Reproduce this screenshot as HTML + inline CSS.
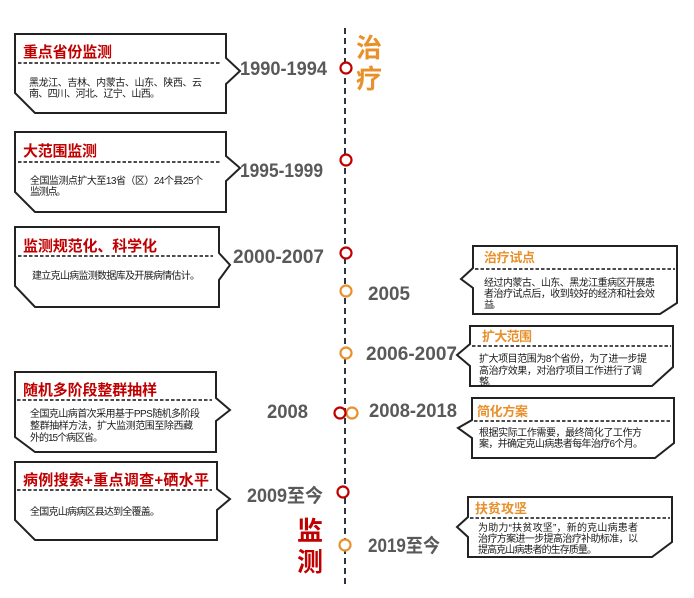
<!DOCTYPE html>
<html><head><meta charset="utf-8"><style>
html,body{margin:0;padding:0;background:#fff;}
svg{display:block;}
text{font-family:"Liberation Sans","Noto Sans CJK SC",sans-serif;}
.t{font-weight:bold;fill:#c00000;font-size:15px;}
.to{font-weight:bold;fill:#e8912c;font-size:13px;}
.b{fill:#1a1a1a;font-size:10px;}
.y{font-weight:bold;fill:#595959;font-size:19px;}
.box{fill:#fff;stroke:#222;stroke-width:2;stroke-linejoin:miter;}
.dl{stroke:#111;stroke-width:1.4;stroke-dasharray:3.5 2;}
</style></head><body>
<svg width="694" height="598" viewBox="0 0 694 598" xmlns="http://www.w3.org/2000/svg">
<!-- timeline -->
<line x1="345" y1="28" x2="345" y2="584" stroke="#2a3442" stroke-width="2" stroke-dasharray="6 4"/>

<!-- Left boxes -->
<path class="box" d="M15,34 L226,34 L226,58 L240,71 L226,84 L226,113 L35,113 L15,93 Z"/>
<line class="dl" x1="18" y1="63" x2="221" y2="63"/>
<text class="t" x="23" y="57" textLength="89" lengthAdjust="spacing">重点省份监测</text>
<text class="b" x="29" y="86" textLength="173" lengthAdjust="spacing">黑龙江、吉林、内蒙古、山东、陕西、云</text>
<text class="b" x="29" y="97" textLength="131" lengthAdjust="spacing">南、四川、河北、辽宁、山西。</text>

<path class="box" d="M15,132 L226,132 L226,156 L240,168 L226,181 L226,212 L35,212 L15,192 Z"/>
<line class="dl" x1="18" y1="162" x2="221" y2="162"/>
<text class="t" x="23" y="156" textLength="74" lengthAdjust="spacing">大范围监测</text>
<text class="b" x="30" y="184" textLength="173" lengthAdjust="spacing">全国监测点扩大至13省（区）24个县25个</text>
<text class="b" x="30" y="195" textLength="36" lengthAdjust="spacing">监测点。</text>

<path class="box" d="M15,227 L219,227 L219,253 L230,265 L219,280 L219,307 L35,307 L15,286 Z"/>
<line class="dl" x1="18" y1="256" x2="213" y2="256"/>
<text class="t" x="23" y="251" textLength="134" lengthAdjust="spacing">监测规范化、科学化</text>
<text class="b" x="32" y="279" textLength="168" lengthAdjust="spacing">建立克山病监测数据库及开展病情估计。</text>

<path class="box" d="M15,372 L216,372 L216,398 L230,410 L216,421 L216,452 L35,452 L15,437 Z"/>
<line class="dl" x1="17" y1="400" x2="212" y2="400"/>
<text class="t" x="23" y="395" textLength="134" lengthAdjust="spacing">随机多阶段整群抽样</text>
<text class="b" x="30" y="417" textLength="170" lengthAdjust="spacing">全国克山病首次采用基于PPS随机多阶段</text>
<text class="b" x="30" y="429" textLength="163" lengthAdjust="spacing">整群抽样方法，扩大监测范围至除西藏</text>
<text class="b" x="30" y="441" textLength="73" lengthAdjust="spacing">外的15个病区省。</text>

<path class="box" d="M15,462 L217,462 L217,489 L230,499 L217,510 L217,540 L35,540 L15,520 Z"/>
<line class="dl" x1="17" y1="490" x2="212" y2="490"/>
<text class="t" x="23" y="485" textLength="186" lengthAdjust="spacing">病例搜索+重点调查+硒水平</text>
<text class="b" x="30" y="515" textLength="130" lengthAdjust="spacing">全国克山病病区县达到全覆盖。</text>

<!-- Right boxes -->
<path class="box" d="M473,246 L677,246 L677,303 L660,314 L473,314 L473,288 L461,279 L473,268 Z"/>
<line class="dl" x1="475" y1="269" x2="675" y2="269"/>
<text class="to" x="484" y="262" textLength="51" lengthAdjust="spacing">治疗试点</text>
<text class="b" x="484" y="286" textLength="171" lengthAdjust="spacing">经过内蒙古、山东、黑龙江重病区开展患</text>
<text class="b" x="484" y="297" textLength="171" lengthAdjust="spacing">者治疗试点后，收到较好的经济和社会效</text>
<text class="b" x="484" y="308" textLength="17" lengthAdjust="spacing">益。</text>

<path class="box" d="M470,326 L673,326 L673,367 L652,386 L470,386 L470,366 L457,355 L470,344 Z"/>
<line class="dl" x1="472" y1="346" x2="671" y2="346"/>
<text class="to" x="482" y="341" textLength="50" lengthAdjust="spacing">扩大范围</text>
<text class="b" x="479" y="362" textLength="168" lengthAdjust="spacing">扩大项目范围为8个省份，为了进一步提</text>
<text class="b" x="479" y="374" textLength="163" lengthAdjust="spacing">高治疗效果，对治疗项目工作进行了调</text>
<text class="b" x="479" y="385" textLength="17" lengthAdjust="spacing">整。</text>

<path class="box" d="M472,398 L674,398 L674,443 L655,458 L472,458 L472,438 L458,428 L472,420 Z"/>
<line class="dl" x1="474" y1="421" x2="672" y2="421"/>
<text class="to" x="477" y="416" textLength="51" lengthAdjust="spacing">简化方案</text>
<text class="b" x="479" y="436" textLength="163" lengthAdjust="spacing">根据实际工作需要，最终简化了工作方</text>
<text class="b" x="479" y="447" textLength="164" lengthAdjust="spacing">案，并确定克山病患者每年治疗6个月。</text>

<path class="box" d="M468,497 L672,497 L672,542 L652,557 L468,557 L468,537 L457,527 L468,517 Z"/>
<line class="dl" x1="470" y1="518" x2="670" y2="518"/>
<text class="to" x="475" y="513" textLength="52" lengthAdjust="spacing">扶贫攻坚</text>
<text class="b" x="478" y="531" textLength="160" lengthAdjust="spacing">为助力“扶贫攻坚”，新的克山病患者</text>
<text class="b" x="478" y="542" textLength="160" lengthAdjust="spacing">治疗方案进一步提高治疗补助标准，以</text>
<text class="b" x="478" y="553" textLength="119" lengthAdjust="spacing">提高克山病患者的生存质量。</text>

<!-- Year labels -->
<text class="y" x="240" y="75" textLength="87" lengthAdjust="spacingAndGlyphs">1990-1994</text>
<text class="y" x="240" y="177" textLength="83" lengthAdjust="spacingAndGlyphs">1995-1999</text>
<text class="y" x="233" y="263" textLength="91" lengthAdjust="spacingAndGlyphs">2000-2007</text>
<text class="y" x="267" y="418" textLength="41" lengthAdjust="spacingAndGlyphs">2008</text>
<text class="y" x="247" y="502" textLength="76" lengthAdjust="spacingAndGlyphs">2009至今</text>
<text class="y" x="368" y="300" textLength="42" lengthAdjust="spacingAndGlyphs">2005</text>
<text class="y" x="366" y="360" textLength="91" lengthAdjust="spacingAndGlyphs">2006-2007</text>
<text class="y" x="369" y="417" textLength="88" lengthAdjust="spacingAndGlyphs">2008-2018</text>
<text class="y" x="368" y="552" textLength="72" lengthAdjust="spacingAndGlyphs">2019至今</text>

<!-- Big labels -->
<text x="356" y="57" font-size="26" font-weight="bold" fill="#e8912c">治</text>
<text x="356" y="88" font-size="26" font-weight="bold" fill="#e8912c">疗</text>
<text x="297" y="540" font-size="26" font-weight="bold" fill="#c00000">监</text>
<text x="297" y="571" font-size="26" font-weight="bold" fill="#c00000">测</text>

<!-- Circles -->
<g fill="#fff" stroke-width="2.2">
<circle cx="346" cy="68" r="5.5" stroke="#c00000"/>
<circle cx="346" cy="160" r="5.5" stroke="#c00000"/>
<circle cx="346" cy="253" r="5.5" stroke="#c00000"/>
<circle cx="346" cy="291" r="5.5" stroke="#e8912c"/>
<circle cx="346" cy="353" r="5.5" stroke="#e8912c"/>
<circle cx="352" cy="413" r="5.5" stroke="#e8912c"/>
<circle cx="340" cy="413" r="5.5" stroke="#c00000"/>
<circle cx="343" cy="492" r="5.5" stroke="#c00000"/>
<circle cx="345" cy="545" r="5.5" stroke="#e8912c"/>
</g>
</svg>
</body></html>
